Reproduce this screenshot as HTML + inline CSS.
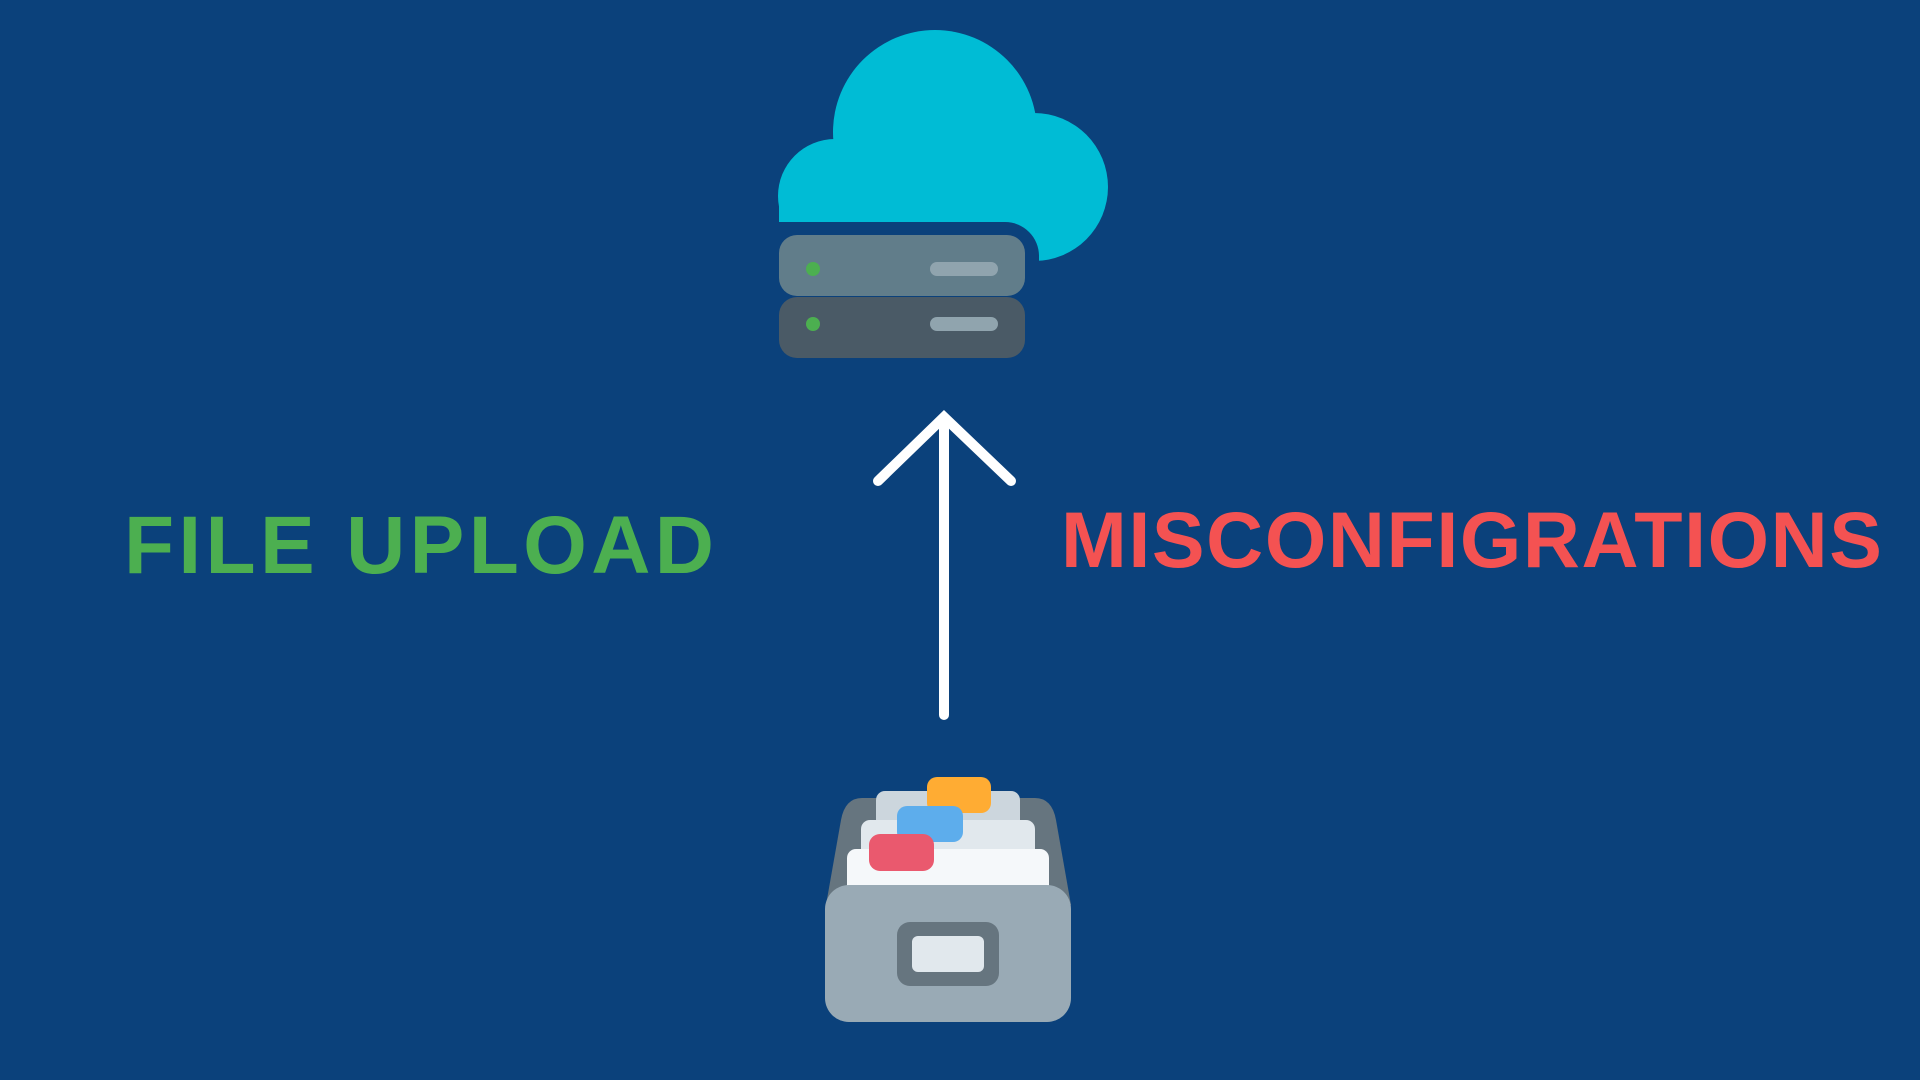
<!DOCTYPE html>
<html><head><meta charset="utf-8"><style>
html,body{margin:0;padding:0;background:#0b417b;}
svg{display:block}
</style></head><body>
<svg width="1920" height="1080" viewBox="0 0 1920 1080" xmlns="http://www.w3.org/2000/svg">
<rect width="1920" height="1080" fill="#0b417b"/>
<!-- cloud -->
<g fill="#00bcd5">
<circle cx="935" cy="132" r="102"/>
<circle cx="835" cy="196" r="57"/>
<circle cx="1034" cy="187" r="74"/>
<rect x="835" y="150" width="200" height="110"/>
<rect x="779" y="190" width="120" height="32"/>
</g>
<path d="M760 222 H1005 A34 34 0 0 1 1039 256 V320 H760 Z" fill="#0b417b"/>
<rect x="760" y="250" width="30" height="80" fill="#0b417b"/>
<!-- server -->
<rect x="779" y="235" width="246" height="61" rx="18" fill="#617d8a"/>
<rect x="779" y="297" width="246" height="61" rx="18" fill="#4a5a66"/>
<circle cx="813" cy="269" r="7" fill="#4caf50"/>
<circle cx="813" cy="324" r="7" fill="#4caf50"/>
<rect x="930" y="262" width="68" height="14" rx="7" fill="#90a4ae"/>
<rect x="930" y="317" width="68" height="14" rx="7" fill="#90a4ae"/>
<!-- arrow -->
<g stroke="#ffffff" stroke-width="10" stroke-linecap="round" stroke-linejoin="miter" fill="none">
<line x1="944" y1="420" x2="944" y2="715"/>
<polyline points="878,481 944,417 1011,481"/>
</g>
<!-- text -->
<text x="124" y="573" font-family="Liberation Sans, sans-serif" font-weight="bold" font-size="82" fill="#4caf50" textLength="590" lengthAdjust="spacing">FILE UPLOAD</text>
<text x="1061" y="567" font-family="Liberation Sans, sans-serif" font-weight="bold" font-size="79" fill="#f45252" textLength="821" lengthAdjust="spacing">MISCONFIGRATIONS</text>
<!-- cabinet -->
<path d="M862 798 H1035 Q1052 798 1056 820 L1071 905 H826 L841 820 Q845 798 862 798 Z" fill="#66757f"/>
<rect x="876" y="791" width="144" height="60" rx="9" fill="#ccd6dd"/>
<rect x="927" y="777" width="64" height="36" rx="10" fill="#ffac33"/>
<rect x="861" y="820" width="174" height="60" rx="9" fill="#e1e8ed"/>
<rect x="897" y="806" width="66" height="36" rx="10" fill="#5dadec"/>
<rect x="847" y="849" width="202" height="60" rx="9" fill="#f5f8fa"/>
<rect x="869" y="834" width="65" height="37" rx="11" fill="#ea596e"/>
<rect x="825" y="885" width="246" height="137" rx="24" fill="#99aab5"/>
<rect x="897" y="922" width="102" height="64" rx="13" fill="#66757f"/>
<rect x="912" y="936" width="72" height="36" rx="6" fill="#e1e8ed"/>
</svg>
</body></html>
